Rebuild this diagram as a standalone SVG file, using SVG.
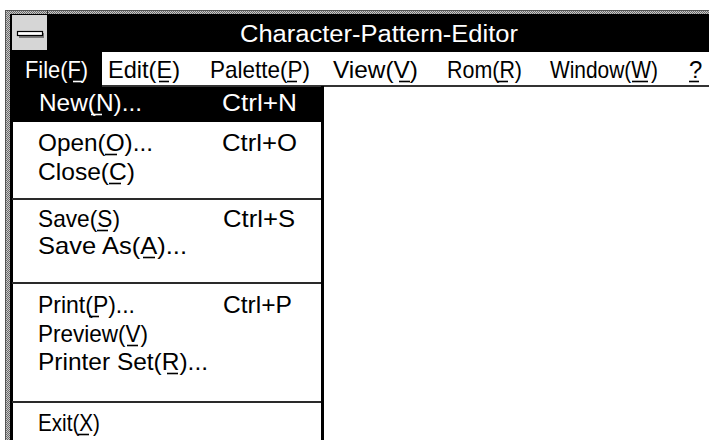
<svg xmlns="http://www.w3.org/2000/svg" width="709" height="440" viewBox="0 0 709 440">
<defs>
<pattern id="dither" width="2" height="2" patternUnits="userSpaceOnUse">
<rect width="2" height="2" fill="#c8c8c8"/>
<rect width="1" height="1" fill="#6a6a6a"/>
<rect x="1" y="1" width="1" height="1" fill="#6a6a6a"/>
</pattern>
</defs>
<style>
.t{font-family:"Liberation Sans","DejaVu Sans",sans-serif;font-size:24px;fill:#000}
.w{fill:#fff}
.title{font-size:23px}
.sep{stroke:#2a2a2a;stroke-width:2}
.u{stroke:#000;stroke-width:1.6}
.uw{stroke:#fff;stroke-width:1.6}
</style>
<rect width="709" height="440" fill="#fff"/>
<g id="frame">
<rect x="5" y="10" width="704" height="5" fill="url(#dither)"/>
<rect x="5" y="10" width="5" height="430" fill="url(#dither)"/>
<line x1="5" y1="10.5" x2="709" y2="10.5" stroke="#555" stroke-width="1"/>
<line x1="5.5" y1="10" x2="5.5" y2="440" stroke="#555" stroke-width="1"/>
<line x1="47.5" y1="10" x2="47.5" y2="15" stroke="#333" stroke-width="1"/>
<rect x="10" y="14" width="699" height="2" fill="#000"/>
<rect x="10" y="14" width="3" height="426" fill="#000"/>
</g>
<g id="titlebar">
<rect x="12" y="15" width="697" height="37" fill="#000"/>
<g id="system-menu">
<rect x="12" y="15" width="35" height="35" fill="#d6d6d6"/>
<rect x="19" y="33" width="25" height="5" fill="#7a7a7a"/>
<rect x="17.5" y="31.5" width="25" height="4" fill="#fff" stroke="#000" stroke-width="1.2"/>
</g>
<text class="t w title" x="240" y="42" textLength="278" lengthAdjust="spacingAndGlyphs">Character-Pattern-Editor</text>
</g>
<g id="menubar">
<rect x="12" y="52" width="697" height="33" fill="#fff"/>
<rect x="12" y="51" width="90" height="36" fill="#000"/>
<line x1="102" y1="86" x2="709" y2="86" stroke="#333" stroke-width="2"/>
<g id="menu-file"><text class="t w" x="25" y="78" textLength="63" lengthAdjust="spacingAndGlyphs">File(F)</text><line class="uw" x1="73" y1="81.5" x2="82" y2="81.5"/></g>
<g id="menu-edit"><text class="t" x="108" y="78" textLength="72" lengthAdjust="spacingAndGlyphs">Edit(E)</text><line class="u" x1="159" y1="81.5" x2="169" y2="81.5"/></g>
<g id="menu-palette"><text class="t" x="210" y="78" textLength="100" lengthAdjust="spacingAndGlyphs">Palette(P)</text><line class="u" x1="287" y1="81.5" x2="297" y2="81.5"/></g>
<g id="menu-view"><text class="t" x="333" y="78" textLength="85" lengthAdjust="spacingAndGlyphs">View(V)</text><line class="u" x1="399" y1="81.5" x2="410" y2="81.5"/></g>
<g id="menu-rom"><text class="t" x="447" y="78" textLength="75" lengthAdjust="spacingAndGlyphs">Rom(R)</text><line class="u" x1="497" y1="81.5" x2="508" y2="81.5"/></g>
<g id="menu-window"><text class="t" x="550" y="78" textLength="108" lengthAdjust="spacingAndGlyphs">Window(W)</text><line class="u" x1="632" y1="81.5" x2="648" y2="81.5"/></g>
<g id="menu-help"><text class="t" x="689" y="78">?</text><line class="u" x1="689" y1="81.5" x2="699" y2="81.5"/></g>
</g>
<g id="file-dropdown">
<rect x="12" y="87" width="309" height="353" fill="#fff"/>
<rect x="10" y="86" width="3" height="354" fill="#000"/>
<rect x="321" y="86" width="3" height="354" fill="#000"/>
<g id="item-new">
<rect x="12" y="87" width="311" height="35" fill="#000"/>
<text class="t w" x="39" y="111" textLength="103" lengthAdjust="spacingAndGlyphs">New(N)...</text>
<line class="uw" x1="91" y1="114.5" x2="102" y2="114.5"/>
<text class="t w" x="222" y="111" textLength="75" lengthAdjust="spacingAndGlyphs">Ctrl+N</text>
</g>
<g id="item-open">
<text class="t" x="38" y="151" textLength="115" lengthAdjust="spacingAndGlyphs">Open(O)...</text>
<line class="u" x1="105" y1="154.5" x2="117" y2="154.5"/>
<text class="t" x="222" y="151" textLength="75" lengthAdjust="spacingAndGlyphs">Ctrl+O</text>
</g>
<g id="item-close"><text class="t" x="38" y="180" textLength="97" lengthAdjust="spacingAndGlyphs">Close(C)</text><line class="u" x1="109" y1="183.5" x2="121" y2="183.5"/></g>
<line class="sep" x1="12" y1="199" x2="321" y2="199"/>
<g id="item-save">
<text class="t" x="38" y="227" textLength="82" lengthAdjust="spacingAndGlyphs">Save(S)</text>
<line class="u" x1="97" y1="230.5" x2="108" y2="230.5"/>
<text class="t" x="223" y="227" textLength="72" lengthAdjust="spacingAndGlyphs">Ctrl+S</text>
</g>
<g id="item-saveas"><text class="t" x="38" y="254" textLength="149" lengthAdjust="spacingAndGlyphs">Save As(A)...</text><line class="u" x1="143" y1="257.5" x2="155" y2="257.5"/></g>
<line class="sep" x1="12" y1="283" x2="321" y2="283"/>
<g id="item-print">
<text class="t" x="38" y="313" textLength="97" lengthAdjust="spacingAndGlyphs">Print(P)...</text>
<line class="u" x1="89" y1="316.5" x2="99" y2="316.5"/>
<text class="t" x="223" y="313" textLength="69" lengthAdjust="spacingAndGlyphs">Ctrl+P</text>
</g>
<g id="item-preview"><text class="t" x="38" y="342" textLength="110" lengthAdjust="spacingAndGlyphs">Preview(V)</text><line class="u" x1="127" y1="345.5" x2="138" y2="345.5"/></g>
<g id="item-printerset"><text class="t" x="38" y="370" textLength="170" lengthAdjust="spacingAndGlyphs">Printer Set(R)...</text><line class="u" x1="167" y1="373.5" x2="178" y2="373.5"/></g>
<line class="sep" x1="12" y1="402" x2="321" y2="402"/>
<g id="item-exit"><text class="t" x="38" y="431" textLength="62" lengthAdjust="spacingAndGlyphs">Exit(X)</text><line class="u" x1="78" y1="434.5" x2="89" y2="434.5"/></g>
</g>
</svg>
